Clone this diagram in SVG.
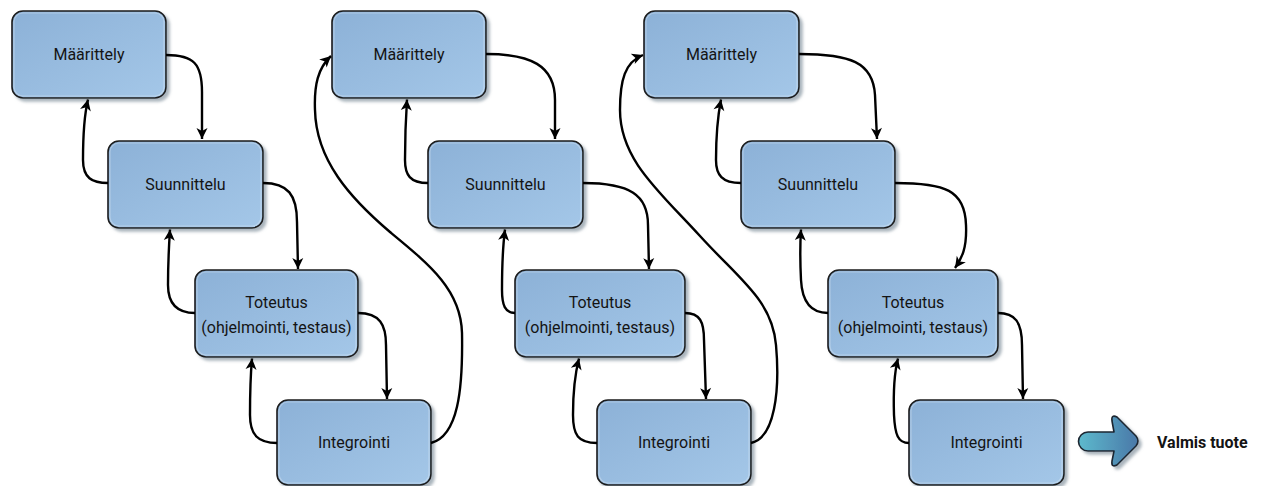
<svg xmlns="http://www.w3.org/2000/svg" width="1261" height="486" viewBox="0 0 1261 486">
  <defs>
    <linearGradient id="boxFill" x1="0" y1="0" x2="1" y2="1">
      <stop offset="0" stop-color="#8cb1d7"/>
      <stop offset="1" stop-color="#a4c7e8"/>
    </linearGradient>
    <linearGradient id="bigArrowFill" x1="0" y1="0" x2="1" y2="0">
      <stop offset="0" stop-color="#5dbacd"/>
      <stop offset="1" stop-color="#4a78a8"/>
    </linearGradient>
    <filter id="shadow" x="-10%" y="-10%" width="125%" height="130%">
      <feDropShadow dx="3" dy="3" stdDeviation="1.4" flood-color="#7d8c99" flood-opacity="0.65"/>
    </filter>
    <marker id="ah" viewBox="-12 -7 13 14" refX="0" refY="0" markerWidth="13" markerHeight="14" markerUnits="userSpaceOnUse" orient="auto">
      <path d="M-11,-5.5 L0,0 L-11,5.5 L-8,0 Z" fill="#000"/>
    </marker>
  </defs>
  <style>
    .box { fill: url(#boxFill); stroke: #1b1b1b; stroke-width: 1.6; filter: url(#shadow); }
    .hl { fill: none; stroke: #ffffff; stroke-opacity: 0.28; stroke-width: 1.2; }
    .lbl { font-family: Roboto, "Noto Sans", sans-serif; font-size: 16px; fill: #141414; text-anchor: middle; }
    .con { fill: none; stroke: #000; stroke-width: 2.4; marker-end: url(#ah); }
  </style>

  <rect width="1261" height="486" fill="#ffffff"/>

  <!-- column 1 -->
  <g id="maarittely-1">
    <rect class="box" x="12" y="11" width="154" height="87" rx="11"/>
    <rect class="hl" x="14" y="13" width="150" height="83" rx="9"/>
    <text class="lbl" x="89" y="60">Määrittely</text>
  </g>
  <g id="suunnittelu-1">
    <rect class="box" x="108" y="141" width="155" height="87" rx="11"/>
    <rect class="hl" x="110" y="143" width="151" height="83" rx="9"/>
    <text class="lbl" x="185.5" y="190">Suunnittelu</text>
  </g>
  <g id="toteutus-1">
    <rect class="box" x="195" y="270" width="163" height="87" rx="11"/>
    <rect class="hl" x="197" y="272" width="159" height="83" rx="9"/>
    <text class="lbl" x="276.5" y="308">Toteutus</text>
    <text class="lbl" x="276.5" y="333">(ohjelmointi, testaus)</text>
  </g>
  <g id="integrointi-1">
    <rect class="box" x="277" y="400" width="154" height="85" rx="11"/>
    <rect class="hl" x="279" y="402" width="150" height="81" rx="9"/>
    <text class="lbl" x="354" y="448">Integrointi</text>
  </g>

  <!-- column 2 -->
  <g id="maarittely-2">
    <rect class="box" x="332" y="11" width="154" height="87" rx="11"/>
    <rect class="hl" x="334" y="13" width="150" height="83" rx="9"/>
    <text class="lbl" x="409" y="60">Määrittely</text>
  </g>
  <g id="suunnittelu-2">
    <rect class="box" x="428" y="141" width="155" height="87" rx="11"/>
    <rect class="hl" x="430" y="143" width="151" height="83" rx="9"/>
    <text class="lbl" x="505.5" y="190">Suunnittelu</text>
  </g>
  <g id="toteutus-2">
    <rect class="box" x="515" y="270" width="170" height="87" rx="11"/>
    <rect class="hl" x="517" y="272" width="166" height="83" rx="9"/>
    <text class="lbl" x="600" y="308">Toteutus</text>
    <text class="lbl" x="600" y="333">(ohjelmointi, testaus)</text>
  </g>
  <g id="integrointi-2">
    <rect class="box" x="597" y="400" width="154" height="85" rx="11"/>
    <rect class="hl" x="599" y="402" width="150" height="81" rx="9"/>
    <text class="lbl" x="674" y="448">Integrointi</text>
  </g>

  <!-- column 3 -->
  <g id="maarittely-3">
    <rect class="box" x="644" y="11" width="155" height="87" rx="11"/>
    <rect class="hl" x="646" y="13" width="151" height="83" rx="9"/>
    <text class="lbl" x="721.5" y="60">Määrittely</text>
  </g>
  <g id="suunnittelu-3">
    <rect class="box" x="741" y="141" width="154" height="87" rx="11"/>
    <rect class="hl" x="743" y="143" width="150" height="83" rx="9"/>
    <text class="lbl" x="818" y="190">Suunnittelu</text>
  </g>
  <g id="toteutus-3">
    <rect class="box" x="828" y="270" width="170" height="87" rx="11"/>
    <rect class="hl" x="830" y="272" width="166" height="83" rx="9"/>
    <text class="lbl" x="913" y="308">Toteutus</text>
    <text class="lbl" x="913" y="333">(ohjelmointi, testaus)</text>
  </g>
  <g id="integrointi-3">
    <rect class="box" x="909" y="400" width="155" height="85" rx="11"/>
    <rect class="hl" x="911" y="402" width="151" height="81" rx="9"/>
    <text class="lbl" x="986.5" y="448">Integrointi</text>
  </g>

  <!-- final product -->
  <g id="valmis-tuote">
    <path d="M1088,432 L1114,432 L1112,421 Q1111,414 1117,417 L1136,436 Q1140,441 1136,446 L1117,465 Q1111,468 1112,461 L1114,451 L1088,451 A9.5,9.5 0 0 1 1088,432 Z" fill="url(#bigArrowFill)" stroke="#1c2630" stroke-width="1.6" stroke-linejoin="round" filter="url(#shadow)"/>
    <text x="1157" y="448" font-family="Roboto, 'Noto Sans', sans-serif" font-size="16px" font-weight="bold" fill="#141414">Valmis tuote</text>
  </g>

  <!-- connectors -->
  <g id="connectors">
    <!-- column 1 -->
    <path class="con" d="M166,55 C194,55 202,64 202,92 L202,139"/>
    <path class="con" d="M108,183 C92,183 83,178 83,160 C83,130 85,112 88,99.5"/>
    <path class="con" d="M263,183 C288,183 297,195 297,222 L298,269"/>
    <path class="con" d="M195,313 C178,313 168,305 168,285 C168,260 169,245 170,229.5"/>
    <path class="con" d="M358,313 C380,313 386,325 386,345 L387,399"/>
    <path class="con" d="M277,443 C258,443 250,435 250,415 C250,385 251,370 252,358.5"/>
    <path class="con" d="M431,443 C458,436 463,390 462,333 C461,290 430,265 390,232 C350,198 316,160 315,110 C314,85 318,68 331,56"/>
    <!-- column 2 -->
    <path class="con" d="M486,54 C530,54 555,65 555,100 L555,139"/>
    <path class="con" d="M428,183 C410,183 405,175 405,160 C405,130 406,115 407,99.5"/>
    <path class="con" d="M583,183 C630,183 648,195 648,225 L649,269"/>
    <path class="con" d="M515,313 C505,313 502,305 502,290 C502,260 503,245 505,229.5"/>
    <path class="con" d="M685,313 C700,313 704,322 704,340 L706,399"/>
    <path class="con" d="M597,443 C578,443 573,435 573,415 C573,385 576,370 579,358.5"/>
    <path class="con" d="M751,443 C775,438 780,390 776,345 C772,300 740,280 700,236 C660,192 620,160 620,110 C620,80 625,62 643,55"/>
    <!-- column 3 -->
    <path class="con" d="M799,54 C850,54 873,62 875,95 L877,139"/>
    <path class="con" d="M741,183 C722,183 716,175 716,160 C716,130 718,115 721,99.5"/>
    <path class="con" d="M895,183 C945,183 965,190 966,225 C967,248 962,258 955,268"/>
    <path class="con" d="M828,313 C810,313 802,300 801,280 C800,260 800,245 801,229.5"/>
    <path class="con" d="M998,313 C1015,313 1022,322 1022,345 L1023,399"/>
    <path class="con" d="M909,443 C898,443 895,435 894,415 C893,385 895,370 898,358.5"/>
  </g>
</svg>
